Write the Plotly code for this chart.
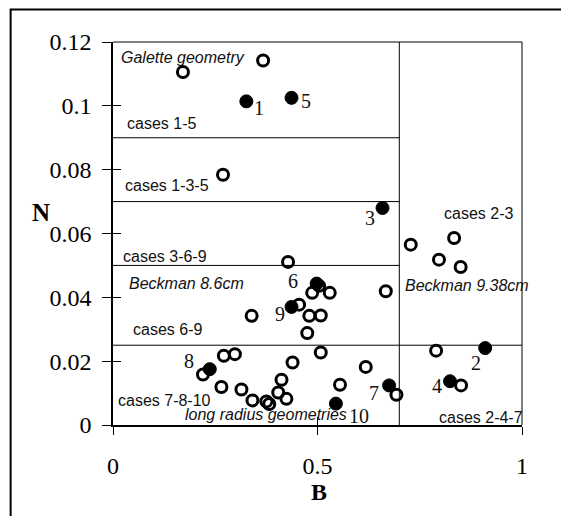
import plotly.graph_objects as go

# ---------------- data ----------------
open_B = [0.171, 0.367, 0.269, 0.728, 0.834, 0.797, 0.850, 0.428, 0.667, 0.504,
          0.487, 0.530, 0.455, 0.339, 0.480, 0.508, 0.475, 0.508, 0.790, 0.271,
          0.298, 0.439, 0.618, 0.220, 0.412, 0.265, 0.314, 0.555, 0.851, 0.404,
          0.341, 0.375, 0.382, 0.424, 0.693]
open_N = [0.1106, 0.1142, 0.0784, 0.0565, 0.0586, 0.0518, 0.0495, 0.0511, 0.0419, 0.0436,
          0.0414, 0.0414, 0.0377, 0.0342, 0.0342, 0.0343, 0.0288, 0.0227, 0.0233, 0.0217,
          0.0222, 0.0196, 0.0182, 0.0158, 0.0142, 0.0119, 0.0111, 0.0126, 0.0124, 0.0102,
          0.0077, 0.0074, 0.0066, 0.0082, 0.0095]

case_ids = ["1", "2", "3", "4", "5", "6", "7", "8", "9", "10"]
case_B = [0.326, 0.910, 0.659, 0.824, 0.4365, 0.498, 0.675, 0.2366, 0.4365, 0.545]
case_N = [0.1014, 0.0241, 0.0680, 0.0137, 0.1025, 0.0443, 0.0124, 0.0175, 0.0370, 0.0067]
case_label_B = [0.357, 0.887, 0.628, 0.793, 0.473, 0.439, 0.639, 0.186, 0.408, 0.602]
case_label_N = [0.0993, 0.0194, 0.0649, 0.0121, 0.1016, 0.0452, 0.0100, 0.0202, 0.0348, 0.0027]

region_texts = ["Galette geometry", "cases 1-5", "cases 1-3-5", "cases 3-6-9",
                "Beckman 8.6cm", "cases 6-9", "cases 7-8-10", "long radius geometries",
                "cases 2-3", "Beckman 9.38cm", "cases 2-4-7"]
region_text_B = [0.0164, 0.031, 0.027, 0.022, 0.0367, 0.0465, 0.0098, 0.173,
                 0.8075, 0.712, 0.795]
region_text_N = [0.1150, 0.0944, 0.0751, 0.0528, 0.0443, 0.0299, 0.0076, 0.0032,
                 0.0664, 0.0436, 0.0025]
region_text_italic = [True, False, False, False, True, False, False, True,
                      False, True, False]

band_edges_N = [0.09, 0.07, 0.05]   # lines from B=0 to the split
full_edge_N = 0.025                 # line across the whole width
split_B = 0.7                       # vertical split

x_ticks = [0, 0.5, 1]
x_tick_text = ["0", "0.5", "1"]
y_ticks = [0, 0.02, 0.04, 0.06, 0.08, 0.1, 0.12]
y_tick_text = ["0", "0.02", "0.04", "0.06", "0.08", "0.1", "0.12"]
x_range = [0, 1]
y_range = [0, 0.12]

SERIF = "Liberation Serif"
SANS = "Liberation Sans"

fig = go.Figure()

fig.add_trace(go.Scatter(
    x=open_B, y=open_N, mode="markers", showlegend=False, hoverinfo="skip",
    marker=dict(symbol="circle-open", size=11, color="black", line=dict(width=3, color="black")),
))
fig.add_trace(go.Scatter(
    x=case_B, y=case_N, mode="markers", showlegend=False, hoverinfo="skip",
    marker=dict(symbol="circle", size=13, color="black", line=dict(width=1, color="black")),
))
# dummy trace for overlay axes (inside tick marks)
fig.add_trace(go.Scatter(x=[None], y=[None], xaxis="x3", yaxis="y3",
                         showlegend=False, hoverinfo="skip"))

shapes = []
for n in band_edges_N:
    shapes.append(dict(type="line", xref="x", yref="y", x0=0, x1=split_B, y0=n, y1=n,
                       line=dict(color="black", width=1)))
shapes.append(dict(type="line", xref="x", yref="y", x0=0, x1=1, y0=full_edge_N, y1=full_edge_N,
                   line=dict(color="black", width=1)))
shapes.append(dict(type="line", xref="x", yref="y", x0=split_B, x1=split_B, y0=0, y1=0.12,
                   line=dict(color="black", width=1)))
shapes.append(dict(type="line", xref="paper", yref="paper", x0=0, x1=1, y0=1, y1=1,
                   line=dict(color="black", width=1)))
shapes.append(dict(type="line", xref="paper", yref="paper", x0=1, x1=1, y0=0, y1=1,
                   line=dict(color="black", width=1)))
# outer chart frame (left / top edges visible)
shapes.append(dict(type="rect", xref="paper", yref="paper", x0=-0.2503, x1=1.3, y0=-0.4, y1=1.085,
                   line=dict(color="black", width=2), fillcolor="rgba(0,0,0,0)"))

annotations = []
for t, b, n, it in zip(region_texts, region_text_B, region_text_N, region_text_italic):
    txt = f"<i>{t}</i>" if it else t
    annotations.append(dict(x=b, y=n, xref="x", yref="y", text=txt, showarrow=False,
                            xanchor="left", yanchor="middle", borderpad=0,
                            font=dict(family=SANS, size=16, color="#111")))
for t, b, n in zip(case_ids, case_label_B, case_label_N):
    annotations.append(dict(x=b, y=n, xref="x", yref="y", text=t, showarrow=False,
                            xanchor="center", yanchor="middle", borderpad=0,
                            font=dict(family=SERIF, size=20, color="#111")))
annotations.append(dict(x=-0.177, y=0.554, xref="paper", yref="paper", text="<b>N</b>",
                        showarrow=False, xanchor="center", yanchor="middle",
                        font=dict(family=SERIF, size=25, color="black")))
annotations.append(dict(x=0.5045, y=-0.176, xref="paper", yref="paper", text="<b>B</b>",
                        showarrow=False, xanchor="center", yanchor="middle", borderpad=0,
                        font=dict(family=SERIF, size=24, color="black")))

fig.update_layout(
    width=561, height=516, autosize=False,
    margin=dict(l=113, r=39, t=42, b=91, pad=0),
    paper_bgcolor="white", plot_bgcolor="white",
    shapes=shapes, annotations=annotations,
    xaxis=dict(range=x_range, tickvals=x_ticks, ticktext=x_tick_text,
               showgrid=False, zeroline=False, showline=True, linecolor="black", linewidth=1.5,
               ticks="outside", ticklen=8, tickwidth=1, tickcolor="black",
               tickfont=dict(family=SERIF, size=24, color="black"), ticklabelstandoff=10),
    yaxis=dict(range=y_range, tickvals=y_ticks, ticktext=y_tick_text,
               showgrid=False, zeroline=False, showline=True, linecolor="black", linewidth=1.5,
               ticks="outside", ticklen=9, tickwidth=1, tickcolor="black",
               tickfont=dict(family=SERIF, size=24, color="black"), ticklabelstandoff=6),
    xaxis3=dict(range=x_range, tickvals=x_ticks, overlaying="x", side="bottom", anchor="y3",
                showgrid=False, zeroline=False, showline=False, showticklabels=False,
                ticks="inside", ticklen=8, tickwidth=1, tickcolor="black"),
    yaxis3=dict(range=y_range, tickvals=y_ticks, overlaying="y", side="left", anchor="x3",
                showgrid=False, zeroline=False, showline=False, showticklabels=False,
                ticks="inside", ticklen=8, tickwidth=1, tickcolor="black"),
)

fig.write_html("out.html", config={"displayModeBar": False},
               post_script="document.body.style.margin='0';document.body.style.overflow='hidden';")
